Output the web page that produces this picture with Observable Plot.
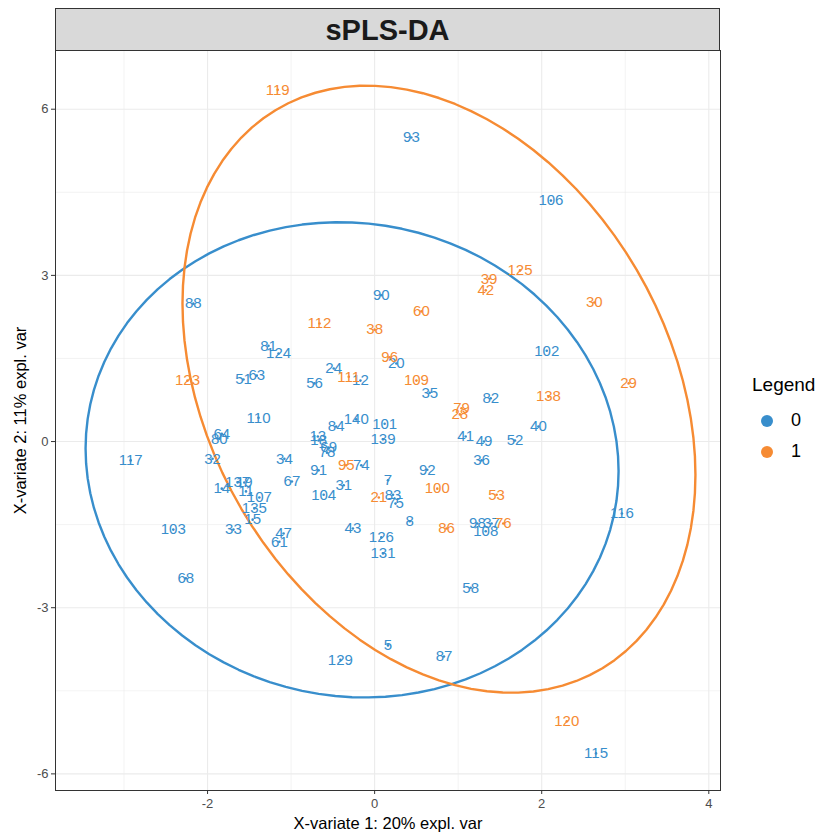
<!DOCTYPE html>
<html>
<head>
<meta charset="utf-8">
<script src="https://cdn.jsdelivr.net/npm/d3@7"></script>
<script src="https://cdn.jsdelivr.net/npm/@observablehq/plot@0.6"></script>
<style>
  body { margin: 0; background: #fff; font-family: "Liberation Sans", Arial, sans-serif; }
  #wrap { position: relative; width: 823px; height: 834px; }
  #strip {
    position: absolute; left: 55px; top: 8px; width: 665px; height: 43px;
    box-sizing: border-box; background: #D9D9D9; border: 1px solid #333;
    display: flex; align-items: center; justify-content: center;
    font-weight: bold; font-size: 29px; color: #1A1A1A; padding-top: 2px;
  }
  #legend { position: absolute; left: 752px; top: 374px; color: #000; }
  #legend .title { font-size: 19px; margin-bottom: 9px; }
  #legend .item { display: flex; align-items: center; height: 31px; font-size: 18px; }
  #legend .swatch { width: 12px; height: 12px; border-radius: 50%; margin-left: 9px; margin-right: 18px; }
</style>
</head>
<body>
<div id="wrap">
  <div id="chart"></div>
  <div id="strip">sPLS-DA</div>
  <div id="legend"></div>
</div>
<script>
// Sample scores on the first two sPLS-DA components
const sampleIds = [
  "93","106","90","88","81","124","102","51","63","24","12","56","20","35","82","110","84","140","101","40",
  "64","80","13","18","139","41","49","52","117","32","34","69","78","36","91","74","92","7","67","14",
  "137","19","11","107","31","104","83","75","135","15","116","98","37","108","8","33","47","61","43","126",
  "131","103","68","58","5","129","87","115",
  "119","125","39","42","30","60","112","38","96","123","111","109","29","138","79","28","95","100","53","21",
  "86","76","120"
];
const comp1 = [
  0.44,2.11,0.08,-2.17,-1.27,-1.15,2.06,-1.57,-1.41,-0.49,-0.17,-0.72,0.26,0.66,1.39,-1.39,-0.46,-0.22,0.12,1.96,
  -1.83,-1.86,-0.68,-0.67,0.10,1.09,1.31,1.68,-2.92,-1.94,-1.08,-0.55,-0.57,1.28,-0.67,-0.16,0.63,0.16,-0.99,-1.83,
  -1.64,-1.56,-1.54,-1.38,-0.37,-0.61,0.22,0.25,-1.44,-1.46,2.96,1.23,1.40,1.33,0.42,-1.69,-1.09,-1.14,-0.26,0.08,
  0.10,-2.41,-2.26,1.15,0.16,-0.41,0.83,2.65,
  -1.16,1.74,1.37,1.33,2.63,0.56,-0.66,0.00,0.18,-2.24,-0.31,0.50,3.04,2.08,1.04,1.02,-0.34,0.75,1.46,0.05,
  0.86,1.54,2.30
];
const comp2 = [
  5.49,4.35,2.64,2.49,1.73,1.59,1.64,1.12,1.19,1.32,1.10,1.05,1.41,0.88,0.78,0.43,0.27,0.40,0.32,0.27,
  0.14,0.05,0.09,0.02,0.04,0.09,0.00,0.02,-0.34,-0.31,-0.31,-0.11,-0.20,-0.34,-0.52,-0.43,-0.51,-0.70,-0.72,-0.85,
  -0.74,-0.74,-0.90,-1.01,-0.79,-0.96,-0.96,-1.12,-1.21,-1.41,-1.30,-1.48,-1.48,-1.62,-1.44,-1.59,-1.66,-1.81,-1.57,-1.73,
  -2.02,-1.59,-2.47,-2.64,-3.68,-3.94,-3.88,-5.63,
  6.35,3.09,2.94,2.73,2.51,2.35,2.13,2.02,1.52,1.10,1.17,1.10,1.05,0.81,0.60,0.49,-0.43,-0.85,-0.96,-1.01,
  -1.57,-1.48,-5.05
];
const sampleGroup = [
  "0","0","0","0","0","0","0","0","0","0","0","0","0","0","0","0","0","0","0","0",
  "0","0","0","0","0","0","0","0","0","0","0","0","0","0","0","0","0","0","0","0",
  "0","0","0","0","0","0","0","0","0","0","0","0","0","0","0","0","0","0","0","0",
  "0","0","0","0","0","0","0","0",
  "1","1","1","1","1","1","1","1","1","1","1","1","1","1","1","1","1","1","1","1",
  "1","1","1"
];

// Groups and their colours
const groups = ["0", "1"];
const groupColors = ["#388ECC", "#F68B33"];

// 95% confidence ellipse per group: centre and covariance terms (scaled)
const ellipseCx = [-0.27, 0.77];
const ellipseCy = [-0.33, 0.945];
const ellipseSx = [3.19, 3.07];
const ellipseSy = [4.29, 5.48];
const ellipseSxy = [-0.65, -4.75];

// Axis ticks
const xMajor = [-2, 0, 2, 4];
const xMinor = [-3, -1, 1, 3];
const yMajor = [-6, -3, 0, 3, 6];
const yMinor = [-4.5, -1.5, 1.5, 4.5];

const samples = sampleIds.map((id, i) => ({ id, x: comp1[i], y: comp2[i], group: sampleGroup[i] }));

// Trace each ellipse from its Cholesky factor
const ellipsePts = [];
groups.forEach((g, k) => {
  const sx = ellipseSx[k], sy = ellipseSy[k], sxy = ellipseSxy[k];
  const l21 = sxy / sx, l22 = Math.sqrt(sy * sy - l21 * l21);
  const n = 100;
  for (let i = 0; i <= n; i++) {
    const t = (2 * Math.PI * i) / n;
    const c = Math.cos(t), s = Math.sin(t);
    ellipsePts.push({ group: g, x: ellipseCx[k] + sx * c, y: ellipseCy[k] + l21 * c + l22 * s });
  }
});

const chart = Plot.plot({
  width: 823,
  height: 834,
  marginLeft: 55,
  marginRight: 103,
  marginTop: 50,
  marginBottom: 44,
  style: { fontFamily: "'Liberation Sans', Arial, sans-serif", background: "#fff" },
  x: { domain: [-3.82, 4.14] },
  y: { domain: [-6.3, 7.06] },
  color: { domain: groups, range: groupColors },
  marks: [
    Plot.ruleX(xMinor, { stroke: "#EBEBEB", strokeWidth: 0.6 }),
    Plot.ruleY(yMinor, { stroke: "#EBEBEB", strokeWidth: 0.6 }),
    Plot.ruleX(xMajor, { stroke: "#EBEBEB", strokeWidth: 1.1 }),
    Plot.ruleY(yMajor, { stroke: "#EBEBEB", strokeWidth: 1.1 }),
    Plot.line(ellipsePts, { x: "x", y: "y", z: "group", stroke: "group", strokeWidth: 2.4, curve: "linear" }),
    Plot.dot(samples, { x: "x", y: "y", fill: "group", r: 1.3, stroke: null }),
    Plot.text(samples, { x: "x", y: "y", text: "id", fill: "group", fontSize: 15 }),
    Plot.frame({ stroke: "#333", strokeWidth: 1 }),
    Plot.axisX({
      ticks: xMajor, tickSize: 4, tickPadding: 4, stroke: "#333", fill: "#4D4D4D", fontSize: 13,
      label: "X-variate 1: 20% expl. var", labelAnchor: "center", labelOffset: 38, labelArrow: "none",
      tickFormat: d => String(d)
    }),
    Plot.axisY({
      ticks: yMajor, tickSize: 4, tickPadding: 3, stroke: "#333", fill: "#4D4D4D", fontSize: 13,
      label: "X-variate 2: 11% expl. var", labelAnchor: "center", labelOffset: 41, labelArrow: "none",
      tickFormat: d => String(d)
    })
  ]
});

// Axis titles in black at the larger size
chart.querySelectorAll("[aria-label='x-axis label'], [aria-label='y-axis label']").forEach(g => {
  g.setAttribute("fill", "#000");
  g.setAttribute("font-size", "16.5");
  g.querySelectorAll("text").forEach(t => { t.textContent = t.textContent.replace(/\s*[→↑↓←]\s*/g, ""); });
});

document.getElementById("chart").appendChild(chart);

// Legend
const legend = document.getElementById("legend");
legend.innerHTML = '<div class="title">Legend</div>' + groups.map((g, i) =>
  `<div class="item"><span class="swatch" style="background:${groupColors[i]}"></span>${g}</div>`).join("");
</script>
</body>
</html>
